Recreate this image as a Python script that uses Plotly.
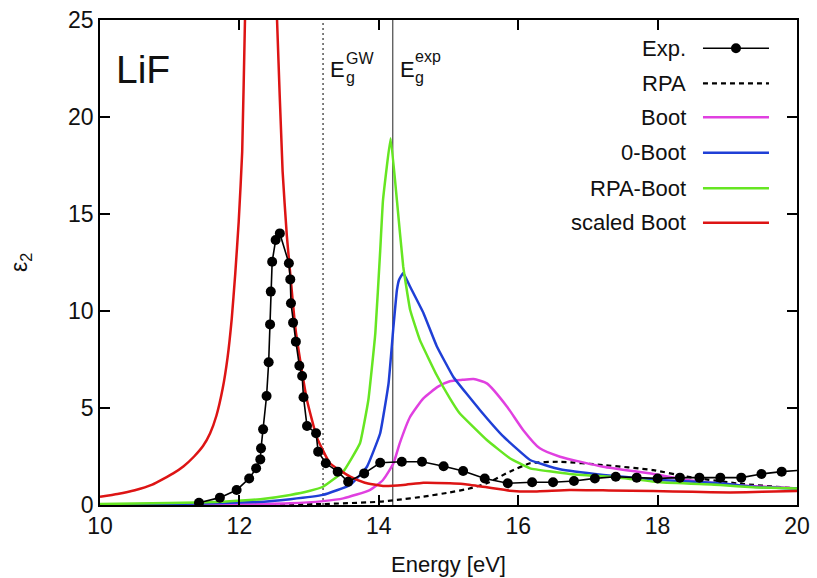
import plotly.graph_objects as go

# ---------------- data ----------------
exp_E = [11.42, 11.72, 11.96, 12.14, 12.24, 12.30, 12.31, 12.34, 12.39, 12.42, 12.44, 12.45, 12.47,
         12.52, 12.58, 12.71, 12.73, 12.74, 12.77, 12.81, 12.86, 12.90, 12.92, 12.97, 13.10, 13.13,
         13.24, 13.41, 13.56, 13.79, 14.02, 14.33, 14.62, 14.93, 15.21, 15.52, 15.85, 16.20, 16.50,
         16.80, 17.10, 17.40, 17.70, 18.00, 18.32, 18.60, 18.90, 19.20, 19.49, 19.78, 20.08]
exp_eps = [0.12, 0.38, 0.77, 1.37, 1.89, 2.35, 2.92, 3.90, 5.62, 7.36, 9.31, 11.0, 12.54,
           13.66, 14.0, 12.46, 11.63, 10.4, 9.4, 8.42, 7.18, 6.65, 5.55, 4.07, 3.70, 2.75,
           2.15, 1.72, 1.20, 1.63, 2.18, 2.23, 2.23, 2.00, 1.75, 1.37, 1.12, 1.17, 1.17,
           1.24, 1.37, 1.46, 1.41, 1.37, 1.41, 1.41, 1.41, 1.41, 1.60, 1.72, 1.80]

rpa_E = [10.0, 12.0, 13.2, 14.02, 14.26, 14.64, 15.02, 15.3, 15.55, 15.88, 16.17, 16.6, 17.22,
         17.94, 18.42, 19.13, 20.0]
rpa_eps = [0.0, 0.01, 0.05, 0.17, 0.26, 0.43, 0.65, 0.85, 1.12, 1.72, 2.15, 2.23, 2.06,
           1.80, 1.46, 1.12, 0.85]

boot_E = [10.0, 12.0, 12.73, 13.2, 13.49, 13.87, 14.06, 14.21, 14.3, 14.45, 14.64, 14.85, 15.02,
          15.2, 15.36, 15.55, 15.84, 16.07, 16.31, 16.6, 17.22, 17.94, 18.42, 19.13, 20.0]
boot_eps = [0.02, 0.05, 0.09, 0.2, 0.34, 0.77, 1.29, 2.15, 3.18, 4.55, 5.5, 6.1, 6.38,
            6.45, 6.49, 6.27, 5.07, 3.87, 2.92, 2.49, 1.97, 1.60, 1.29, 1.03, 0.85]

zboot_E = [10.0, 11.0, 12.25, 12.73, 13.2, 13.59, 13.83, 14.02, 14.14, 14.21, 14.26, 14.29, 14.35,
           14.45, 14.64, 14.83, 15.07, 15.45, 15.79, 16.17, 16.6, 17.22, 18.03, 18.9, 19.37, 20.0]
zboot_eps = [0.03, 0.05, 0.15, 0.30, 0.52, 1.03, 1.97, 3.70, 6.27, 9.19, 11.08, 11.6, 11.96,
             11.25, 9.9, 8.2, 6.6, 4.9, 3.52, 2.32, 1.84, 1.55, 1.29, 1.12, 0.94, 0.85]

rboot_E = [10.0, 11.0, 11.77, 12.3, 12.73, 13.0, 13.2, 13.49, 13.73, 13.85, 13.95, 14.02, 14.06,
           14.17, 14.26, 14.35, 14.45, 14.59, 14.83, 15.02, 15.16, 15.55, 15.88, 16.17, 16.74,
           17.46, 18.03, 18.9, 19.37, 20.0]
rboot_eps = [0.05, 0.1, 0.17, 0.3, 0.52, 0.72, 0.94, 1.72, 3.18, 5.41, 8.85, 13.1, 15.7,
             18.9, 15.7, 12.3, 10.05, 8.5, 6.7, 5.5, 4.73, 3.35, 2.41, 1.89, 1.60,
             1.41, 1.17, 1.03, 0.91, 0.85]

sboot_E = [10.0, 10.25, 10.5, 10.75, 11.05, 11.2, 11.35, 11.48, 11.58, 11.67, 11.76, 11.83, 11.89,
           11.94, 11.99, 12.04, 12.08, 12.15, 12.23, 12.31, 12.39, 12.47, 12.54, 12.62, 12.68,
           12.73, 12.80, 12.87, 12.97, 13.11, 13.3, 13.59, 13.8, 14.06, 14.35, 14.64, 15.02, 15.21,
           15.55, 15.88, 16.17, 16.74, 17.3, 17.94, 18.5, 19.04, 19.5, 20.0]
sboot_eps = [0.43, 0.57, 0.76, 1.05, 1.63, 2.0, 2.5, 3.05, 3.7, 4.6, 6.0, 7.6, 9.6,
             11.9, 14.6, 18.2, 25.0, 34.1, 45.9, 51.8, 45.9, 34.1, 25.0, 17.2, 13.9,
             11.9, 9.2, 7.5, 5.4, 3.5, 2.15, 1.46, 1.15, 0.98, 1.03, 1.15, 1.12, 1.08,
             0.91, 0.74, 0.69, 0.77, 0.75, 0.72, 0.68, 0.65, 0.68, 0.72]

gap_GW = 13.2
gap_exp = 14.2

x_ticks = [10, 12, 14, 16, 18, 20]
y_ticks = [0, 5, 10, 15, 20, 25]

legend_names = ["Exp.", "RPA", "Boot", "0-Boot", "RPA-Boot", "scaled Boot"]
colors = {"Exp.": "#000000", "RPA": "#000000", "Boot": "#e040e0", "0-Boot": "#1f3fd6",
          "RPA-Boot": "#66e622", "scaled Boot": "#dd1414"}

FONT = "Liberation Sans, Arial, Helvetica, sans-serif"
TXT = "#111111"

fig = go.Figure()

# gap lines
fig.add_trace(go.Scatter(x=[gap_GW, gap_GW], y=[0, 25], mode="lines",
                         line=dict(color="#000000", width=1, dash="2px,3px"), showlegend=False, hoverinfo="skip"))
fig.add_trace(go.Scatter(x=[gap_exp, gap_exp], y=[0, 25], mode="lines",
                         line=dict(color="#555555", width=1.3), showlegend=False, hoverinfo="skip"))

fig.add_trace(go.Scatter(x=rpa_E, y=rpa_eps, mode="lines", name="RPA",
                         line=dict(color=colors["RPA"], width=2.2, dash="5px,4px", shape="spline", smoothing=0.5)))
fig.add_trace(go.Scatter(x=boot_E, y=boot_eps, mode="lines", name="Boot",
                         line=dict(color=colors["Boot"], width=2.5, shape="spline", smoothing=0.5)))
fig.add_trace(go.Scatter(x=zboot_E, y=zboot_eps, mode="lines", name="0-Boot",
                         line=dict(color=colors["0-Boot"], width=2.5, shape="spline", smoothing=0.3)))
fig.add_trace(go.Scatter(x=rboot_E, y=rboot_eps, mode="lines", name="RPA-Boot",
                         line=dict(color=colors["RPA-Boot"], width=2.5, shape="spline", smoothing=0.3)))
fig.add_trace(go.Scatter(x=sboot_E, y=sboot_eps, mode="lines", name="scaled Boot",
                         line=dict(color=colors["scaled Boot"], width=2.5, shape="spline", smoothing=0.4)))
fig.add_trace(go.Scatter(x=exp_E, y=exp_eps, mode="lines+markers", name="Exp.",
                         line=dict(color="#000000", width=1.6),
                         marker=dict(color="#000000", size=10)))

# custom legend (text right aligned, sample to the right)
row_y = [0.9416, 0.8695, 0.7994, 0.7264, 0.6530, 0.5821]
text_x = 0.8436
line_x0, line_x1 = 0.8651, 0.9598
annotations = []
shapes = []
for name, yy in zip(legend_names, row_y):
    annotations.append(dict(x=text_x, y=yy, xref="paper", yref="paper", text=name, showarrow=False,
                            xanchor="right", yanchor="middle", font=dict(family=FONT, size=22, color=TXT)))
    if name == "RPA":
        ln = dict(color="#000000", width=2.2, dash="5px,4px")
    elif name == "Exp.":
        ln = dict(color="#000000", width=1.6)
    else:
        ln = dict(color=colors[name], width=2.5)
    shapes.append(dict(type="line", xref="paper", yref="paper", x0=line_x0, x1=line_x1, y0=yy, y1=yy, line=ln))
    if name == "Exp.":
        shapes.append(dict(type="circle", xref="paper", yref="paper", xsizemode="pixel", ysizemode="pixel",
                           xanchor=(line_x0 + line_x1) / 2, yanchor=yy, x0=-5, x1=5, y0=-5, y1=5,
                           fillcolor="#000000", line=dict(color="#000000", width=0)))

# text labels
small = dict(family=FONT, size=16, color=TXT)
annotations += [
    dict(x=10.2, y=22.44, xref="x", yref="y", text="LiF", showarrow=False, xanchor="left", yanchor="middle",
         font=dict(family=FONT, size=39, color=TXT)),
    dict(x=13.29, y=22.45, xref="x", yref="y", text="E", showarrow=False, xanchor="left", yanchor="middle",
         font=dict(family=FONT, size=22, color=TXT), borderpad=0),
    dict(x=13.51, y=23.0, xref="x", yref="y", text="GW", showarrow=False, xanchor="left", yanchor="middle",
         font=small, borderpad=0),
    dict(x=13.51, y=22.05, xref="x", yref="y", text="g", showarrow=False, xanchor="left", yanchor="middle",
         font=small, borderpad=0),
    dict(x=14.29, y=22.45, xref="x", yref="y", text="E", showarrow=False, xanchor="left", yanchor="middle",
         font=dict(family=FONT, size=22, color=TXT), borderpad=0),
    dict(x=14.51, y=23.1, xref="x", yref="y", text="exp", showarrow=False, xanchor="left", yanchor="middle",
         font=small, borderpad=0),
    dict(x=14.51, y=22.05, xref="x", yref="y", text="g", showarrow=False, xanchor="left", yanchor="middle",
         font=small, borderpad=0),
]

axis_common = dict(showline=True, linecolor="#000000", linewidth=1.5, mirror="ticks",
                   ticks="inside", ticklen=10, tickwidth=1.5, tickcolor="#000000",
                   showgrid=False, zeroline=False, automargin=False,
                   tickfont=dict(family=FONT, size=23, color=TXT))

fig.update_layout(
    width=817, height=578,
    margin=dict(l=100, r=20, t=20, b=73),
    paper_bgcolor="white", plot_bgcolor="white",
    showlegend=False,
    annotations=annotations, shapes=shapes,
    xaxis=dict(range=[10, 20], tickvals=x_ticks, ticktext=[str(v) for v in x_ticks],
               title=dict(text="Energy [eV]", font=dict(family=FONT, size=22, color=TXT), standoff=18),
               **axis_common),
    yaxis=dict(range=[0, 25], tickvals=y_ticks, ticktext=[str(v) for v in y_ticks],
               title=dict(text="ε<sub>2</sub>", font=dict(family=FONT, size=23, color=TXT), standoff=34),
               **axis_common),
)

fig.write_html("out.html")
